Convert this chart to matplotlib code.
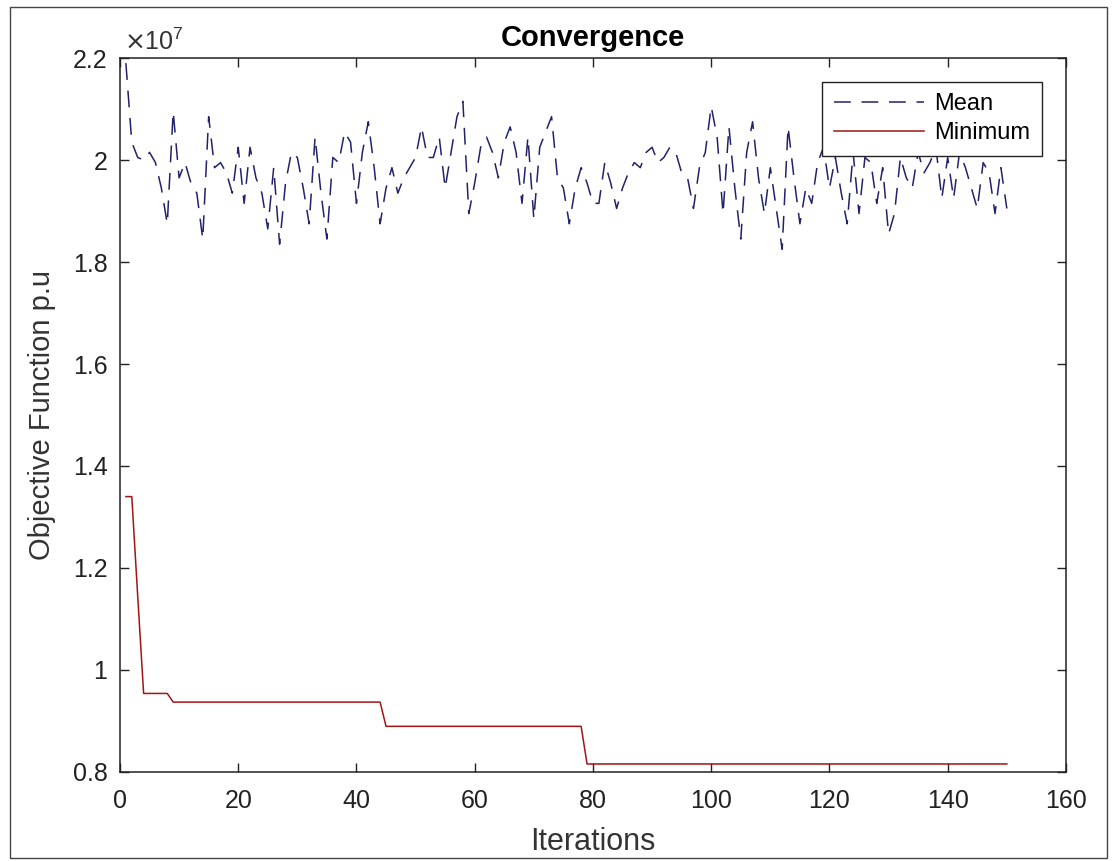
import matplotlib
matplotlib.use('Agg')
import matplotlib.pyplot as plt
from matplotlib.ticker import FuncFormatter, MultipleLocator
from matplotlib.patches import Rectangle

plt.rcParams['font.family'] = ['Liberation Sans', 'DejaVu Sans']

# Valeurs (unités de 1e7)
iterations = list(range(1, 151))

mean_vals = [
    2.19, 2.035, 2.005, 2.0, 2.015, 1.995, 1.945, 1.875, 2.095, 1.965,
    1.995, 1.955, 1.935, 1.845, 2.085, 1.985, 1.995, 1.975, 1.935, 2.025,
    1.915, 2.025, 1.965, 1.935, 1.865, 1.985, 1.835, 1.955, 2.015, 2.005,
    1.945, 1.875, 2.045, 1.935, 1.845, 2.005, 1.995, 2.055, 2.035, 1.915,
    2.015, 2.075, 1.985, 1.875, 1.945, 1.985, 1.935, 1.965, 1.985, 2.005,
    2.065, 2.005, 2.005, 2.045, 1.945, 2.015, 2.085, 2.115, 1.895, 1.955,
    2.025, 2.045, 2.015, 1.965, 2.035, 2.065, 2.015, 1.915, 2.045, 1.885,
    2.025, 2.055, 2.085, 1.965, 1.945, 1.875, 1.945, 1.985, 1.955, 1.915,
    1.915, 1.995, 1.955, 1.905, 1.945, 1.975, 1.995, 1.985, 2.015, 2.025,
    1.995, 2.005, 2.025, 2.015, 1.975, 1.965, 1.905, 1.985, 2.015, 2.105,
    2.045, 1.895, 2.065, 1.945, 1.845, 2.015, 2.075, 1.965, 1.895, 1.985,
    1.905, 1.825, 2.065, 1.965, 1.875, 1.945, 1.915, 1.995, 2.025, 1.945,
    2.005, 1.935, 1.875, 2.015, 1.895, 2.005, 1.995, 1.915, 1.985, 1.855,
    1.895, 2.005, 1.965, 1.945, 2.015, 1.975, 1.995, 2.025, 1.925, 2.005,
    1.925, 2.015, 1.985, 1.945, 1.905, 1.995, 1.975, 1.895, 1.985, 1.905,
]

min_vals = ([1.34, 1.34, 1.145] + [0.954] * 5 + [0.937] * 36
            + [0.8895] * 34 + [0.8157] * 72)

fig = plt.figure(figsize=(11.17, 8.61), dpi=100)
ax = fig.add_axes([0.1074, 0.1034, 0.8469, 0.8292])

ax.plot(iterations, mean_vals, color='#22226a', lw=1.1,
        linestyle=(0, (11, 7)), label='Mean')
ax.plot(iterations, min_vals, color='#a01515', lw=1.1, label='Minimum')

ax.set_xlim(0, 160)
ax.set_ylim(0.8, 2.2)
ax.xaxis.set_major_locator(MultipleLocator(20))
ax.yaxis.set_major_locator(MultipleLocator(0.2))
ax.yaxis.set_major_formatter(FuncFormatter(lambda v, p: '%g' % round(v, 2)))

ax.tick_params(direction='in', length=6.5, width=1.0, top=True, right=True,
               labelsize=18, colors='#222222')
ax.tick_params(axis='x', pad=12)
ax.tick_params(axis='y', pad=9)
for s in ax.spines.values():
    s.set_linewidth(1.1)
    s.set_color('#222222')

ax.set_xlabel('Iterations', fontsize=22, color='#333333', labelpad=10)
ax.set_ylabel('Objective Function p.u', fontsize=21, color='#333333', labelpad=12)
ax.set_title('Convergence', fontsize=21, fontweight='bold', pad=9)
ax.text(0.004, 1.004, r'$\times\mathregular{10^{7}}$', transform=ax.transAxes,
        fontsize=18, va='bottom', ha='left', color='#333333')

leg = ax.legend(loc='upper right', bbox_to_anchor=(0.975, 0.967),
                borderaxespad=0, fontsize=17, handlelength=3.8,
                handletextpad=0.45, labelspacing=0.3, fancybox=False,
                framealpha=1, edgecolor='#222222', borderpad=0.5)
leg.get_frame().set_linewidth(1.0)

# cadre autour de la figure
fig.patches.append(Rectangle((10 / 1117, 3 / 861), 1097 / 1117, 851 / 861,
                             transform=fig.transFigure, fill=False,
                             edgecolor='#444444', lw=1.0))

plt.savefig('out.png', dpi=100)
